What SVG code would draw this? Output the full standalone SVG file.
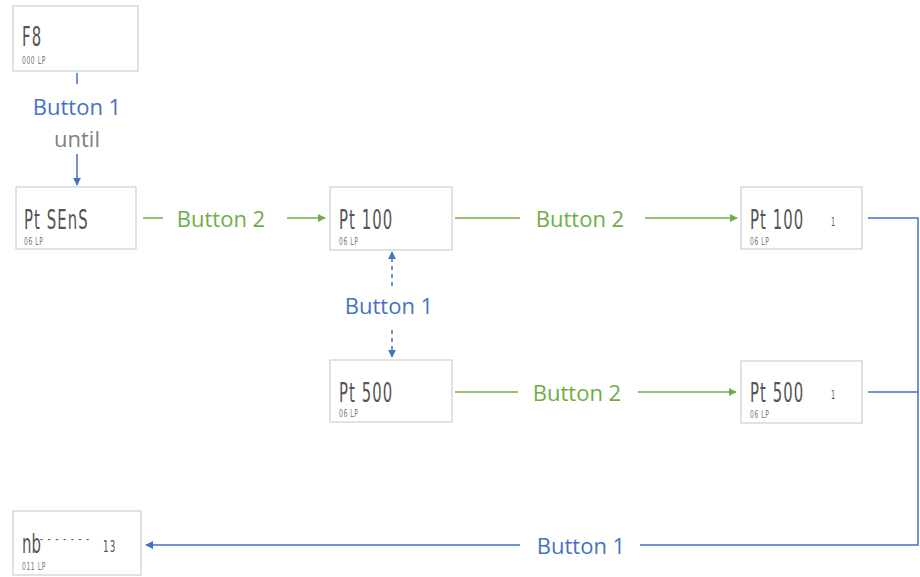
<svg xmlns="http://www.w3.org/2000/svg" width="920" height="577" viewBox="0 0 920 577">
<style>
.box{fill:#fff;stroke:#d9d9d9;stroke-width:1.5}
.lcd{font-family:"DejaVu Sans","Liberation Sans",sans-serif;font-size:27px;fill:#555;letter-spacing:2px}
.sm{font-family:"DejaVu Sans","Liberation Sans",sans-serif;font-size:10px;fill:#777;letter-spacing:1px}
.lbl{font-family:"Open Sans","Liberation Sans",sans-serif;font-size:22px;text-anchor:middle;dominant-baseline:central}
.b{fill:#4472c4}.g{fill:#70ad47}.gr{fill:#808080}
.lb{stroke:#4472c4;stroke-width:1.5;fill:none}
.lg{stroke:#70ad47;stroke-width:1.5;fill:none}
.dash{stroke-dasharray:4 4}
</style>
<defs>
<marker id="ab" viewBox="0 0 10 10" refX="9" refY="5" markerWidth="8" markerHeight="8" markerUnits="userSpaceOnUse" orient="auto"><path d="M0,0L10,5L0,10z" fill="#4472c4"/></marker>
<marker id="ag" viewBox="0 0 10 10" refX="9" refY="5" markerWidth="8" markerHeight="8" markerUnits="userSpaceOnUse" orient="auto"><path d="M0,0L10,5L0,10z" fill="#70ad47"/></marker>
</defs>
<g id="connectors">
<line class="lb" x1="77" y1="73" x2="77" y2="84"/>
<text class="lbl b" x="77" y="106">Button 1</text>
<text class="lbl gr" x="77" y="138">until</text>
<line class="lb" x1="77" y1="154" x2="77" y2="185" marker-end="url(#ab)"/>
<line class="lg" x1="143" y1="218" x2="163" y2="218"/>
<text class="lbl g" x="221" y="218">Button 2</text>
<line class="lg" x1="287" y1="218" x2="325" y2="218" marker-end="url(#ag)"/>
<line class="lg" x1="455" y1="218" x2="520" y2="218"/>
<text class="lbl g" x="580" y="218">Button 2</text>
<line class="lg" x1="645" y1="218" x2="737" y2="218" marker-end="url(#ag)"/>
<line class="lb dash" x1="392" y1="286" x2="392" y2="252" marker-end="url(#ab)"/>
<text class="lbl b" x="389" y="305">Button 1</text>
<line class="lb dash" x1="392" y1="330" x2="392" y2="357" marker-end="url(#ab)"/>
<line class="lg" x1="455" y1="392" x2="518" y2="392"/>
<text class="lbl g" x="577" y="392">Button 2</text>
<line class="lg" x1="638" y1="392" x2="736" y2="392" marker-end="url(#ag)"/>
<polyline class="lb" points="868,218 918,218 918,545 640,545"/>
<line class="lb" x1="868" y1="392" x2="918" y2="392"/>
<text class="lbl b" x="581" y="545">Button 1</text>
<line class="lb" x1="520" y1="545" x2="146" y2="545" marker-end="url(#ab)"/>
</g>
<g id="n-f8"><rect class="box" x="13" y="6" width="125" height="65"/><text class="lcd" transform="translate(22,46) scale(0.55,1)">F8</text><text class="sm" transform="translate(22,64) scale(0.6,1)">000 LP</text></g>
<g id="n-ptsens"><rect class="box" x="16" y="187" width="120" height="62"/><text class="lcd" transform="translate(24,229) scale(0.55,1)">Pt SEnS</text><text class="sm" transform="translate(24,245) scale(0.6,1)">06 LP</text></g>
<g id="n-pt100"><rect class="box" x="330" y="187" width="122" height="63"/><text class="lcd" transform="translate(339,229) scale(0.55,1)">Pt 100</text><text class="sm" transform="translate(339,245) scale(0.6,1)">06 LP</text></g>
<g id="n-pt100-1"><rect class="box" x="741" y="187" width="121" height="62"/><text class="lcd" transform="translate(750,229) scale(0.55,1)">Pt 100</text><text class="lcd" transform="translate(831,226) scale(0.55,1)" style="font-size:12px">1</text><text class="sm" transform="translate(750,245) scale(0.6,1)">06 LP</text></g>
<g id="n-pt500"><rect class="box" x="330" y="360" width="122" height="62"/><text class="lcd" transform="translate(339,402) scale(0.55,1)">Pt 500</text><text class="sm" transform="translate(339,417) scale(0.6,1)">06 LP</text></g>
<g id="n-pt500-1"><rect class="box" x="741" y="361" width="121" height="62"/><text class="lcd" transform="translate(750,402) scale(0.55,1)">Pt 500</text><text class="lcd" transform="translate(831,399) scale(0.55,1)" style="font-size:12px">1</text><text class="sm" transform="translate(750,418) scale(0.6,1)">06 LP</text></g>
<g id="n-nb"><rect class="box" x="13" y="511" width="128" height="64"/><text class="lcd" transform="translate(22,553) scale(0.55,1)" style="letter-spacing:0">nb</text><text class="lcd" transform="translate(40,544) scale(0.55,1)" style="font-size:14px;letter-spacing:9px">-------</text><text class="lcd" transform="translate(103,552) scale(0.55,1)" style="font-size:16px">13</text><text class="sm" transform="translate(22,570) scale(0.6,1)">011 LP</text></g>
</svg>
